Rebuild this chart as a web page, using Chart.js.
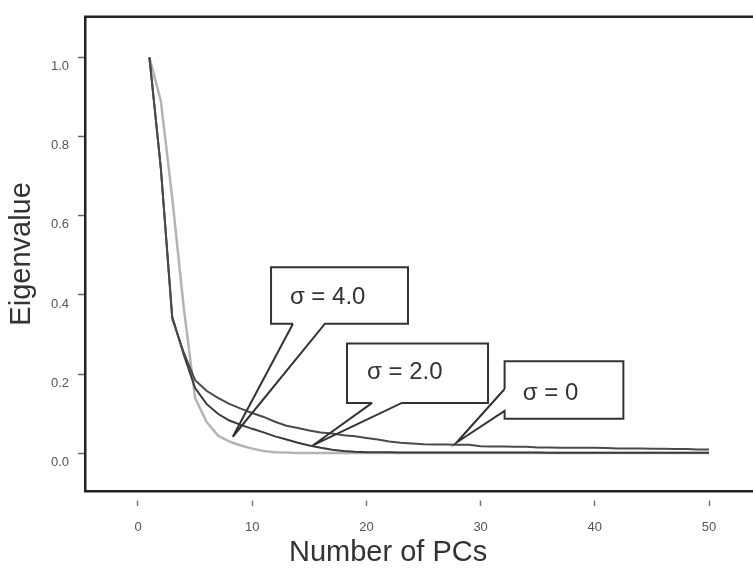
<!DOCTYPE html>
<html><head><meta charset="utf-8">
<script src="https://cdn.jsdelivr.net/npm/chart.js@4/dist/chart.umd.min.js"></script>
<style>html,body{margin:0;padding:0;background:#fff;overflow:hidden}#wrap{width:753px;height:572px;position:relative}</style>
</head><body><div id="wrap"><canvas id="c"></canvas></div>
<script>
// ---- data ----
const pcs = [1,2,3,4,5,6,7,8,9,10,11,12,13,14,15,16,17,18,19,20,21,22,23,24,25,26,27,28,29,30,31,32,33,34,35,36,37,38,39,40,41,42,43,44,45,46,47,48,49,50];
const sigma0 = [1.0,0.72,0.34,0.255,0.185,0.158,0.14,0.125,0.113,0.102,0.092,0.08,0.07,0.064,0.058,0.053,0.05,0.046,0.043,0.039,0.035,0.03,0.027,0.025,0.023,0.0225,0.0225,0.022,0.022,0.018,0.0175,0.0175,0.017,0.017,0.015,0.015,0.0145,0.0145,0.014,0.014,0.0135,0.0125,0.0125,0.0125,0.012,0.012,0.011,0.011,0.01,0.01];
const sigma2 = [1.0,0.72,0.345,0.25,0.165,0.125,0.1,0.083,0.072,0.062,0.053,0.043,0.035,0.027,0.02,0.014,0.009,0.006,0.004,0.003,0.003,0.003,0.0025,0.0025,0.0025,0.002,0.002,0.002,0.002,0.002,0.002,0.002,0.002,0.002,0.002,0.0015,0.0015,0.0015,0.0015,0.0015,0.0015,0.0015,0.0015,0.0015,0.0015,0.0015,0.0015,0.0015,0.0015,0.0015];
const sigma4 = [1.0,0.89,0.645,0.37,0.14,0.08,0.045,0.03,0.02,0.012,0.006,0.003,0.002,0.001,0.001,0.001,0.001,0.001,0.001,0.001,0.001,0.001,0.001,0.001,0.001,0.001,0.001,0.001,0.001,0.001,0.001,0.001,0.001,0.001,0.001,0.001,0.001,0.001,0.001,0.001,0.001,0.001,0.001,0.001,0.001,0.001,0.001,0.001,0.001,0.001];
const seriesNames = ['σ = 0','σ = 2.0','σ = 4.0'];
const xTicks = [0,10,20,30,40,50];
const yTicks = [0,0.2,0.4,0.6,0.8,1.0];
const xTitle = 'Number of PCs';
const yTitle = 'Eigenvalue';

// callout annotations (data coordinates)
const callouts = [
  {text: seriesNames[2], box:[11.65,23.64,0.47,0.3275], side:'bottom', base:[13.57,16.37], tip:[8.3,0.042], textAt:[13.3,0.395]},
  {text: seriesNames[1], box:[18.3,30.65,0.2775,0.1275], side:'bottom', base:[20.5,23.1], tip:[15.3,0.02], textAt:[20.05,0.205]},
  {text: seriesNames[0], box:[32.1,42.5,0.2325,0.0875], side:'left', base:[0.1625,0.1075], tip:[27.9,0.0275], textAt:[33.7,0.152]}
];

const toPts = arr => pcs.map((p,i)=>({x:p,y:arr[i]}));

const decor = {
  id:'decor',
  beforeDatasetsDraw(chart){
    const {ctx, chartArea:a} = chart;
    ctx.save();
    ctx.strokeStyle='#222'; ctx.lineWidth=2.5;
    ctx.beginPath(); ctx.moveTo(a.left-1, a.top); ctx.lineTo(a.right+2, a.top); ctx.stroke();
    ctx.restore();
  },
  afterDatasetsDraw(chart){
    const {ctx, scales:{x,y}} = chart;
    ctx.save();
    ctx.strokeStyle='#333'; ctx.lineWidth=2; ctx.lineJoin='miter';
    callouts.forEach(c=>{
      const L=x.getPixelForValue(c.box[0]), R=x.getPixelForValue(c.box[1]);
      const T=y.getPixelForValue(c.box[2]), B=y.getPixelForValue(c.box[3]);
      const tx=x.getPixelForValue(c.tip[0]), ty=y.getPixelForValue(c.tip[1]);
      ctx.beginPath();
      if(c.side==='bottom'){
        const b1=x.getPixelForValue(c.base[0]), b2=x.getPixelForValue(c.base[1]);
        ctx.moveTo(b1,B); ctx.lineTo(L,B); ctx.lineTo(L,T); ctx.lineTo(R,T); ctx.lineTo(R,B); ctx.lineTo(b2,B);
        ctx.lineTo(tx,ty); ctx.lineTo(b1,B);
      } else {
        const b1=y.getPixelForValue(c.base[0]), b2=y.getPixelForValue(c.base[1]);
        ctx.moveTo(L,b1); ctx.lineTo(L,T); ctx.lineTo(R,T); ctx.lineTo(R,B); ctx.lineTo(L,B); ctx.lineTo(L,b2);
        ctx.lineTo(tx,ty); ctx.lineTo(L,b1);
      }
      ctx.stroke();
      ctx.fillStyle='#333'; ctx.font='24px "Liberation Sans", Arial, sans-serif';
      ctx.textAlign='left'; ctx.textBaseline='middle';
      ctx.fillText(c.text, x.getPixelForValue(c.textAt[0]), y.getPixelForValue(c.textAt[1]));
    });
    // x axis title
    ctx.fillStyle='#333'; ctx.font='29px "Liberation Sans", Arial, sans-serif';
    ctx.textAlign='center'; ctx.textBaseline='middle';
    ctx.fillText(xTitle, x.getPixelForValue(21.9), 553);
    ctx.restore();
  }
};

new Chart(document.getElementById('c'), {
  type:'line',
  data:{datasets:[
    {label:seriesNames[0], data:toPts(sigma0), borderColor:'#4a4a4a', borderWidth:2, order:1},
    {label:seriesNames[1], data:toPts(sigma2), borderColor:'#3a3a3a', borderWidth:2, order:2},
    {label:seriesNames[2], data:toPts(sigma4), borderColor:'#b4b4b4', borderWidth:2.5, order:3}
  ]},
  options:{
    responsive:true, maintainAspectRatio:false, animation:false,
    layout:{padding:{top:12,left:0,right:0,bottom:0}},
    elements:{point:{radius:0}, line:{tension:0}},
    plugins:{legend:{display:false}, tooltip:{enabled:false}},
    scales:{
      x:{type:'linear', min:-4.64, max:53.85,
        afterBuildTicks:s=>{s.ticks=xTicks.map(v=>({value:v}));},
        afterFit:s=>{s.height=81;},
        border:{display:true,color:'#222',width:2.5},
        grid:{drawOnChartArea:false, drawTicks:true, tickLength:15, tickColor:'#777', tickWidth:1.5, tickBorderDash:[0,8,7,30]},
        ticks:{color:'#555', font:{size:13, family:'"Liberation Sans", Arial'}, padding:14, maxRotation:0}
      },
      y:{type:'linear', min:-0.095, max:1.1025,
        afterBuildTicks:s=>{s.ticks=yTicks.map(v=>({value:v}));},
        afterFit:s=>{s.width=85;},
        border:{display:true,color:'#222',width:2.5},
        grid:{drawOnChartArea:false, drawTicks:true, tickLength:7, tickColor:'#666', tickWidth:1.5},
        ticks:{color:'#555', font:{size:13, family:'"Liberation Sans", Arial'}, padding:9, labelOffset:9,
          callback:v=>Number(v).toFixed(1)},
        title:{display:true, text:yTitle, color:'#333', font:{size:29, family:'"Liberation Sans", Arial'}, padding:{top:5,bottom:0}}
      }
    }
  },
  plugins:[decor]
});
</script></body></html>
